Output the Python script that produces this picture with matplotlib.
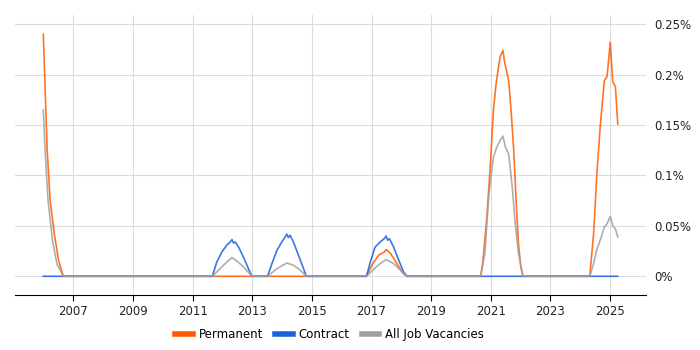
import matplotlib.pyplot as plt
from matplotlib.ticker import FuncFormatter, MultipleLocator
from matplotlib.lines import Line2D

# Permanent (decimal year, % of vacancies)
perm_x = [2005.99, 2006.12, 2006.22, 2006.36, 2006.5, 2006.66,
          2011.66, 2012.99, 2013.51, 2014.81,
          2016.83, 2017.01, 2017.24, 2017.43, 2017.49, 2017.63, 2017.85, 2018.05, 2018.19,
          2020.66, 2020.73, 2020.87, 2020.98, 2021.09, 2021.18, 2021.26, 2021.32, 2021.41,
          2021.46, 2021.60, 2021.68, 2021.77, 2021.85, 2021.93, 2022.01, 2022.08,
          2024.32, 2024.45, 2024.56, 2024.67, 2024.81, 2024.90, 2025.01, 2025.09, 2025.18, 2025.26]
perm_y = [0.240, 0.125, 0.075, 0.042, 0.016, 0.0,
          0.0, 0.0, 0.0, 0.0,
          0.0, 0.011, 0.021, 0.024, 0.0265, 0.023, 0.0126, 0.003, 0.0,
          0.0, 0.0126, 0.059, 0.108, 0.165, 0.191, 0.208, 0.218, 0.224,
          0.213, 0.194, 0.165, 0.125, 0.075, 0.032, 0.009, 0.0,
          0.0, 0.042, 0.102, 0.148, 0.194, 0.198, 0.232, 0.193, 0.188, 0.151]

# Contract
cont_x = [2005.99, 2011.66, 2011.81, 2011.98, 2012.15, 2012.26, 2012.32, 2012.37, 2012.43,
          2012.54, 2012.70, 2012.87, 2012.99,
          2013.51, 2013.66, 2013.83, 2013.99, 2014.07, 2014.16, 2014.21, 2014.27, 2014.38,
          2014.55, 2014.72, 2014.81,
          2016.83, 2016.96, 2017.12, 2017.29, 2017.43, 2017.49, 2017.54, 2017.60, 2017.74,
          2017.91, 2018.07, 2018.19, 2025.26]
cont_y = [0.0, 0.0, 0.0142, 0.0241, 0.031, 0.034, 0.0364, 0.033, 0.034,
          0.029, 0.0192, 0.0076, 0.0,
          0.0, 0.0126, 0.0258, 0.034, 0.0374, 0.0417, 0.0384, 0.0407, 0.034,
          0.0208, 0.0076, 0.0,
          0.0, 0.0142, 0.029, 0.034, 0.0374, 0.040, 0.0357, 0.0374, 0.029,
          0.0162, 0.0046, 0.0, 0.0]

# All job vacancies
all_x = [2005.99, 2006.06, 2006.15, 2006.3, 2006.45, 2006.66,
         2011.66, 2011.92, 2012.15, 2012.32, 2012.48, 2012.70, 2012.99,
         2013.51, 2013.83, 2014.16, 2014.38, 2014.61, 2014.81,
         2016.83, 2017.06, 2017.29, 2017.49, 2017.74, 2017.97, 2018.19,
         2020.66, 2020.80, 2020.94, 2021.09, 2021.20, 2021.32, 2021.41, 2021.49, 2021.60,
         2021.72, 2021.83, 2021.93, 2022.08,
         2024.32, 2024.45, 2024.56, 2024.71, 2024.81, 2024.90, 2025.01, 2025.09, 2025.18, 2025.26]
all_y = [0.165, 0.12, 0.075, 0.035, 0.012, 0.0,
         0.0, 0.0076, 0.0142, 0.0186, 0.0152, 0.0095, 0.0,
         0.0, 0.0076, 0.0132, 0.011, 0.006, 0.0,
         0.0, 0.0066, 0.0126, 0.0166, 0.0126, 0.006, 0.0,
         0.0, 0.0225, 0.082, 0.118, 0.128, 0.135, 0.139, 0.128, 0.1217,
         0.0886, 0.049, 0.0225, 0.0,
         0.0, 0.0126, 0.027, 0.039, 0.049, 0.052, 0.0595, 0.050, 0.047, 0.039]

year_ticks = [2007, 2009, 2011, 2013, 2015, 2017, 2019, 2021, 2023, 2025]

c_perm = '#ff5a00'
c_cont = '#1a5fe0'
c_all = '#a0a0a0'

fig = plt.figure(figsize=(7, 3.5), dpi=100)
ax = fig.add_axes([0.0214, 0.157, 0.902, 0.8])

ax.plot(perm_x, perm_y, color=c_perm, lw=1.2, alpha=0.85)
ax.plot(cont_x, cont_y, color=c_cont, lw=1.2, alpha=0.85)
ax.plot(all_x, all_y, color=c_all, lw=1.2, alpha=0.85)

ax.set_xlim(2005.04, 2026.22)
ax.set_ylim(-0.0186, 0.259)
ax.set_xticks(year_ticks)
ax.yaxis.set_major_locator(MultipleLocator(0.05))
ax.yaxis.set_major_formatter(FuncFormatter(lambda v, p: '%g%%' % round(v, 3)))
ax.yaxis.tick_right()
ax.tick_params(axis='y', length=0, labelsize=8.5, colors='#222222', pad=6)
ax.tick_params(axis='x', length=4, labelsize=8.5, colors='#222222', direction='out')
ax.tick_params(axis='x', color='black')

for s in ['top', 'left', 'right']:
    ax.spines[s].set_visible(False)
ax.spines['bottom'].set_color('black')
ax.grid(True, color='#dcdcdc', lw=0.8)
ax.set_axisbelow(True)

handles = [Line2D([], [], color=c_perm, lw=4),
           Line2D([], [], color=c_cont, lw=4),
           Line2D([], [], color=c_all, lw=4)]
fig.legend(handles, ['Permanent', 'Contract', 'All Job Vacancies'], loc='center',
           bbox_to_anchor=(0.471, 0.043), ncol=3, frameon=False, fontsize=8.5,
           handlelength=1.5, handletextpad=0.5, columnspacing=1.0)

fig.savefig('out.png', dpi=100)
